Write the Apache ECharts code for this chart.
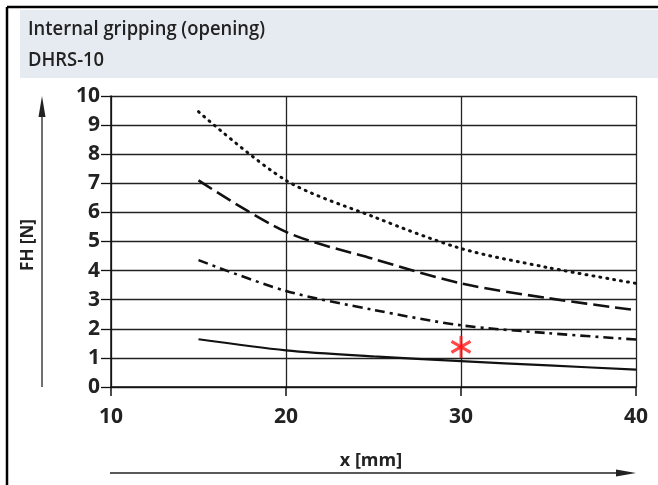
<!DOCTYPE html>
<html>
<head>
<meta charset="utf-8">
<script src="https://cdn.jsdelivr.net/npm/echarts@6/dist/echarts.min.js"></script>
<style>
html,body{margin:0;padding:0;background:#fff;}
#c{width:658px;height:485px;}
</style>
</head>
<body>
<div id="c"></div>
<script>
// Data
const titleText = 'Internal gripping (opening)';
const subtitleText = 'DHRS-10';
const xName = 'x [mm]';
const yName = 'FH [N]';
const xTicks = [10, 20, 30, 40];
const yTicks = [0,1,2,3,4,5,6,7,8,9,10];

const curveX = [15, 20, 25, 30, 35, 40];
const dottedY = [9.46, 7.1, 5.85, 4.76, 4.1, 3.56];
const dashedY = [7.1, 5.33, 4.4, 3.56, 3.05, 2.64];
const dashDotY = [4.36, 3.3, 2.65, 2.12, 1.85, 1.63];
const solidY = [1.64, 1.26, 1.05, 0.89, 0.74, 0.6];
const markerPoint = [30, 1.38];

const pairs = (xs, ys) => xs.map((x, i) => [x, ys[i]]);

const chart = echarts.init(document.getElementById('c'), null, {renderer: 'canvas'});
const tickFont = {fontFamily: 'Open Sans', fontWeight: 'bold', fontSize: 21, color: '#222'};
const headFont = '600 20px "Open Sans", sans-serif';

const option = {
  animation: false,
  backgroundColor: '#fff',
  grid: {left: 111, right: 22, top: 96, bottom: 98, containLabel: false},
  xAxis: {
    type: 'value', min: xTicks[0], max: xTicks[xTicks.length - 1], interval: 10,
    axisLine: {show: true, lineStyle: {color: '#111', width: 1.5}},
    axisTick: {show: true, inside: false, length: 9, lineStyle: {color: '#111', width: 1.5}},
    splitLine: {show: true, lineStyle: {color: '#222', width: 1.3}},
    axisLabel: Object.assign({margin: 20}, tickFont)
  },
  yAxis: {
    type: 'value', min: yTicks[0], max: yTicks[yTicks.length - 1], interval: 1,
    axisLine: {show: true, lineStyle: {color: '#111', width: 1.5}},
    axisTick: {show: true, inside: false, length: 10, lineStyle: {color: '#111', width: 1.3}},
    splitLine: {show: true, lineStyle: {color: '#222', width: 1.3}},
    axisLabel: Object.assign({margin: 11}, tickFont)
  },
  series: [
    {type: 'line', data: pairs(curveX, dottedY), smooth: 0.3, symbol: 'none',
     lineStyle: {color: '#111', width: 3, type: [1, 6], cap: 'round'}},
    {type: 'line', data: pairs(curveX, dashedY), smooth: 0.3, symbol: 'none',
     lineStyle: {color: '#111', width: 2.6, type: [16, 6]}},
    {type: 'line', data: pairs(curveX, dashDotY), smooth: 0.3, symbol: 'none',
     lineStyle: {color: '#111', width: 2.6, type: [10, 5, 3, 5]}},
    {type: 'line', data: pairs(curveX, solidY), smooth: 0.3, symbol: 'none',
     lineStyle: {color: '#111', width: 2.2}},
    {type: 'scatter', symbol: 'rect', symbolSize: [3, 22], z: 10,
     itemStyle: {color: '#ff1a1a'},
     data: [
       {value: markerPoint, symbolRotate: 0},
       {value: markerPoint, symbolRotate: 60},
       {value: markerPoint, symbolRotate: -60}
     ]}
  ],
  graphic: [
    {type: 'rect', shape: {x: 20, y: 10, width: 650, height: 68}, style: {fill: '#e6eaf1'}, z: -1},
    {type: 'line', shape: {x1: 7, y1: 7, x2: 7, y2: 485}, style: {stroke: '#000', lineWidth: 2.5}},
    {type: 'line', shape: {x1: 7, y1: 7, x2: 658, y2: 7}, style: {stroke: '#000', lineWidth: 2.5}},
    {type: 'text', x: 28, y: 29, scaleX: 0.92,
     style: {text: titleText, font: headFont, fill: '#222', align: 'left', verticalAlign: 'middle'}},
    {type: 'text', x: 28, y: 60, scaleX: 0.92,
     style: {text: subtitleText, font: headFont, fill: '#222', align: 'left', verticalAlign: 'middle'}},
    {type: 'text', x: 28, y: 245, rotation: Math.PI / 2,
     style: {text: yName, font: 'bold 17px "Open Sans", sans-serif', fill: '#222', align: 'center', verticalAlign: 'middle'}},
    {type: 'text', x: 371, y: 461,
     style: {text: xName, font: 'bold 18px "Open Sans", sans-serif', fill: '#222', align: 'center', verticalAlign: 'middle'}},
    {type: 'line', shape: {x1: 42, y1: 387, x2: 42, y2: 112}, style: {stroke: '#222', lineWidth: 1.3}},
    {type: 'polygon', shape: {points: [[42, 96], [38.5, 117], [45.5, 117]]}, style: {fill: '#222'}},
    {type: 'line', shape: {x1: 110, y1: 473, x2: 620, y2: 473}, style: {stroke: '#222', lineWidth: 1.3}},
    {type: 'polygon', shape: {points: [[636, 473], [616, 469.5], [616, 476.5]]}, style: {fill: '#222'}}
  ]
};
chart.setOption(option);
</script>
</body>
</html>
